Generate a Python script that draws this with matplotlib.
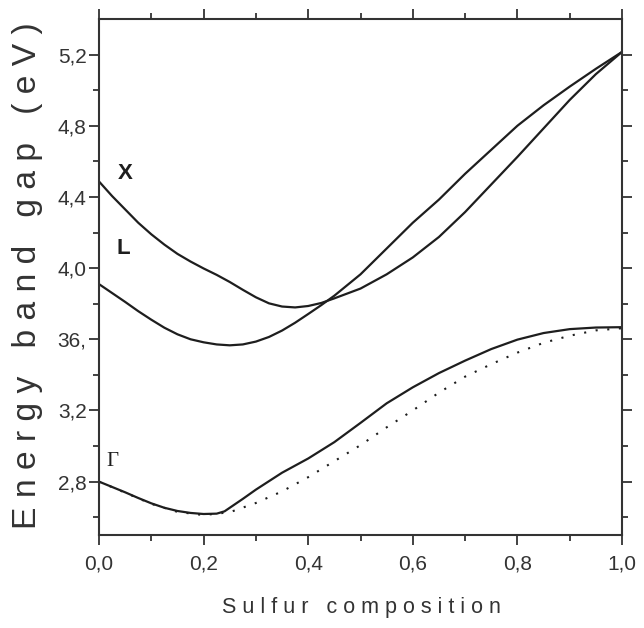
import matplotlib
matplotlib.use("Agg")
import matplotlib.pyplot as plt
from matplotlib.ticker import MultipleLocator, FixedLocator

# X-point gap
x_X = [0.0, 0.025, 0.05, 0.075, 0.1, 0.125, 0.15, 0.175, 0.2, 0.225, 0.25, 0.275,
       0.3, 0.325, 0.35, 0.375, 0.4, 0.425, 0.45, 0.5, 0.55, 0.6, 0.65, 0.7,
       0.75, 0.8, 0.85, 0.9, 0.95, 1.0]
gap_X = [4.487, 4.405, 4.33, 4.255, 4.19, 4.132, 4.08, 4.037, 3.998, 3.962, 3.922, 3.878,
         3.836, 3.802, 3.784, 3.779, 3.787, 3.804, 3.83, 3.885, 3.965, 4.06, 4.175, 4.315,
         4.47, 4.625, 4.785, 4.945, 5.09, 5.215]

# L-point gap
x_L = [0.0, 0.025, 0.05, 0.075, 0.1, 0.125, 0.15, 0.175, 0.2, 0.225, 0.25, 0.275,
       0.3, 0.325, 0.35, 0.375, 0.4, 0.425, 0.45, 0.5, 0.55, 0.6, 0.65, 0.7,
       0.75, 0.8, 0.85, 0.9, 0.95, 1.0]
gap_L = [3.91, 3.86, 3.81, 3.758, 3.71, 3.665, 3.628, 3.6, 3.583, 3.571, 3.566, 3.571,
         3.587, 3.613, 3.649, 3.693, 3.742, 3.792, 3.845, 3.965, 4.11, 4.255, 4.385, 4.53,
         4.665, 4.80, 4.915, 5.02, 5.12, 5.215]

# Gamma-point gap (solid)
x_G = [0.0, 0.025, 0.05, 0.075, 0.1, 0.125, 0.15, 0.175, 0.2, 0.225, 0.24, 0.25,
       0.275, 0.3, 0.35, 0.4, 0.45, 0.5, 0.55, 0.6, 0.65, 0.7, 0.75, 0.8,
       0.85, 0.9, 0.95, 1.0]
gap_G = [2.80, 2.77, 2.74, 2.708, 2.678, 2.653, 2.635, 2.624, 2.618, 2.62, 2.633, 2.653,
         2.703, 2.755, 2.85, 2.93, 3.022, 3.13, 3.24, 3.33, 3.41, 3.48, 3.545, 3.598,
         3.635, 3.657, 3.666, 3.668]

# Gamma-point gap (dotted)
x_Gd = [0.0, 0.05, 0.1, 0.15, 0.2, 0.25, 0.3, 0.35, 0.4, 0.45, 0.5,
        0.55, 0.6, 0.65, 0.7, 0.75, 0.8, 0.85, 0.9, 0.95, 1.0]
gap_Gd = [2.80, 2.738, 2.675, 2.63, 2.612, 2.628, 2.68, 2.745, 2.825, 2.915, 3.005,
          3.105, 3.20, 3.30, 3.39, 3.46, 3.525, 3.58, 3.62, 3.65, 3.662]

xtick_vals = [0.0, 0.2, 0.4, 0.6, 0.8, 1.0]
xtick_labels = ["0,0", "0,2", "0,4", "0,6", "0,8", "1,0"]
ytick_vals = [2.8, 3.2, 3.6, 4.0, 4.4, 4.8, 5.2]
ytick_labels = ["2,8", "3,2", "36,", "4,0", "4,4", "4,8", "5,2"]
yminor_vals = [2.6, 3.0, 3.4, 3.8, 4.2, 4.6, 5.0]

plt.rcParams['font.family'] = ['Liberation Sans', 'DejaVu Sans']

fig = plt.figure(figsize=(6.44, 6.28), dpi=100)
ax = fig.add_axes([99/644, 1 - 535/628, (622-99)/644, (535-19)/628])

lc = "#1e1e1e"
ax.plot(x_X, gap_X, color=lc, lw=1.6)
ax.plot(x_L, gap_L, color=lc, lw=1.6)
ax.plot(x_G, gap_G, color=lc, lw=1.6)
ax.plot(x_Gd, gap_Gd, color=lc, lw=1.5, linestyle=(0, (1, 4.6)))

ax.set_xlim(0, 1.0)
ax.set_ylim(2.5, 5.4)

ax.xaxis.set_major_locator(FixedLocator(xtick_vals))
ax.set_xticklabels(xtick_labels)
ax.xaxis.set_minor_locator(MultipleLocator(0.1))
ax.yaxis.set_major_locator(FixedLocator(ytick_vals))
ax.set_yticklabels(ytick_labels)
ax.yaxis.set_minor_locator(FixedLocator(yminor_vals))

for s in ax.spines.values():
    s.set_linewidth(1.5)
    s.set_color("#333333")

ax.tick_params(which='both', direction='out', top=True, right=True,
               color="#333333", width=1.3, labelsize=15, labelcolor="#333333")
ax.tick_params(which='major', length=7)
ax.tick_params(which='minor', length=4)
ax.tick_params(axis='x', which='major', pad=7)
ax.tick_params(axis='y', which='major', pad=2)

ax.text(0.035, 4.53, "X", fontsize=16, fontweight='bold', color=lc, ha='left', va='center')
ax.text(0.033, 4.11, "L", fontsize=16, fontweight='bold', color=lc, ha='left', va='center')
ax.text(0.015, 2.915, "\u0393", fontsize=15, family=['Liberation Serif', 'DejaVu Serif'],
        color=lc, ha='left', va='center')

fig.text(28/644, 1 - 276/628, "E n e r g y   b a n d   g a p   ( e V )",
         rotation=90, fontsize=24.2, color="#333333", ha='center', va='center')
fig.text(361/644, 1 - 607/628, "S u l f u r   c o m p o s i t i o n",
         fontsize=15.5, color="#333333", ha='center', va='center')

fig.savefig("out.png", dpi=100)
